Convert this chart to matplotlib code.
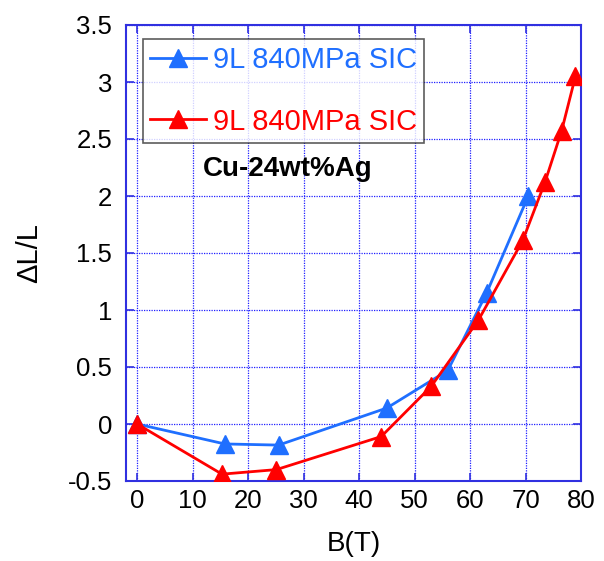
import matplotlib
matplotlib.use("Agg")
import matplotlib.pyplot as plt

plt.rcParams['font.family'] = ['Liberation Sans', 'DejaVu Sans']

blue_B = [0, 15.8, 25.5, 45, 56, 63, 70.5]
blue_dL = [0, -0.175, -0.185, 0.14, 0.47, 1.15, 2.0]
red_B = [0, 15.3, 25.1, 44, 53, 61.5, 69.5, 73.5, 76.5, 79]
red_dL = [0, -0.44, -0.40, -0.11, 0.33, 0.91, 1.61, 2.12, 2.57, 3.05]
labels = ["9L 840MPa SIC", "9L 840MPa SIC"]
xticks = [0, 10, 20, 30, 40, 50, 60, 70, 80]
yticks = [-0.5, 0, 0.5, 1, 1.5, 2, 2.5, 3, 3.5]
ytick_labels = ["-0.5", "0", "0.5", "1", "1.5", "2", "2.5", "3", "3.5"]

fig = plt.figure(figsize=(6.04, 5.61), dpi=100)
ax = fig.add_axes([126/604, 1 - 481/561, (581-126)/604, (481-25)/561])

cb = '#1f6fff'
cr = '#ff0000'
ax.plot(blue_B, blue_dL, color=cb, lw=2, marker='^', ms=13, label=labels[0], zorder=3)
ax.plot(red_B, red_dL, color=cr, lw=2, marker='^', ms=13, label=labels[1], zorder=4)

ax.set_xlim(-2, 80)
ax.set_ylim(-0.5, 3.5)
ax.set_xticks(xticks)
ax.set_yticks(yticks)
ax.set_yticklabels(ytick_labels)
ax.grid(True, color='#2020ff', linestyle=(0, (1, 1)), lw=0.9)
for s in ax.spines.values():
    s.set_color('#3030e0')
    s.set_linewidth(1.5)
ax.tick_params(direction='in', length=6, color='#3030e0', width=1.2,
               top=True, right=True, labelsize=18.5)
ax.tick_params(axis='x', pad=6)
ax.tick_params(axis='y', pad=10)

ax.set_xlabel('B(T)', fontsize=20, labelpad=13)
ax.set_ylabel('ΔL/L', fontsize=21, labelpad=18)

leg = ax.legend(loc='upper left', bbox_to_anchor=(0.037, 0.97), fontsize=21,
                frameon=True, fancybox=False, edgecolor='#333333',
                labelspacing=1.15, handlelength=1.9, handletextpad=0.25,
                borderpad=0.25, borderaxespad=0)
leg.get_frame().set_linewidth(1.2)
for t, c in zip(leg.get_texts(), [cb, cr]):
    t.set_color(c)

ax.text(0.355, 0.685, 'Cu-24wt%Ag', transform=ax.transAxes, fontsize=20,
        fontweight='bold', ha='center', va='center')

fig.savefig('out.png', dpi=100)
